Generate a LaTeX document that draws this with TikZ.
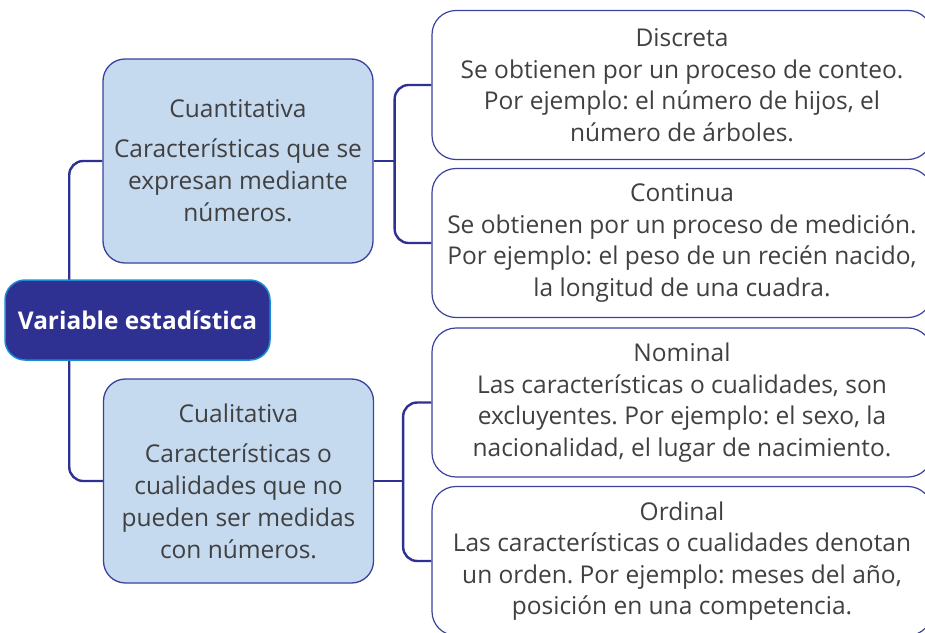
\documentclass[tikz,border=0pt]{standalone}
\usepackage{fontspec}
\setmainfont{Open Sans}
\frenchspacing
\usetikzlibrary{backgrounds}

\definecolor{navy}{RGB}{46,49,146}
\definecolor{rootedge}{RGB}{25,140,210}
\definecolor{paleblue}{RGB}{197,217,239}
\definecolor{boxedge}{RGB}{58,66,158}
\definecolor{bodytext}{RGB}{64,64,64}

\tikzset{
  rootbox/.style={draw=rootedge, line width=1.5pt, fill=navy, rounded corners=20pt,
    minimum width=265pt, minimum height=80pt, inner sep=0pt, text=white,
    font=\fontsize{24.4}{28}\selectfont\bfseries},
  typebox/.style={draw=boxedge, line width=1.3pt, fill=paleblue, rounded corners=22pt,
    minimum width=270pt, minimum height=204pt, inner sep=0pt, align=center,
    text=bodytext, font=\fontsize{24.5}{32}\selectfont},
  kindbox/.style={draw=boxedge, line width=1.2pt, fill=white, rounded corners=24pt,
    minimum width=500pt, minimum height=149pt, inner sep=0pt, align=center,
    text=bodytext, font=\fontsize{24.5}{31.5}\selectfont},
  conn/.style={draw=navy, line width=2.4pt, rounded corners=14pt}
}

\begin{document}
\begin{tikzpicture}[x=1pt, y=-1pt]
    \useasboundingbox (0,0) rectangle (925,632);
    \clip (0,0) rectangle (925,632);

    % main concept
    \node[rootbox] (root) at (137.5,320) {Variable estadística};

    % two kinds of variable
    \node[typebox] (cuanti) at (238,161) {Cuantitativa\\[8pt]Características que se\\expresan mediante\\números.};
    \node[typebox] (cuali) at (238.5,481) {Cualitativa\\[8pt]Características o\\cualidades que no\\pueden ser medidas\\con números.};

    % subtypes
    \node[kindbox] (disc) at (682,85) {Discreta\\Se obtienen por un proceso de conteo.\\Por ejemplo: el número de hijos, el\\número de árboles.};
    \node[kindbox] (cont) at (682,243) {Continua\\Se obtienen por un proceso de medición.\\Por ejemplo: el peso de un recién nacido,\\la longitud de una cuadra.};
    \node[kindbox] (nomi) at (682,402.5) {Nominal\\Las características o cualidades, son\\excluyentes. Por ejemplo: el sexo, la\\nacionalidad, el lugar de nacimiento.};
    \node[kindbox] (ordi) at (682,561) {Ordinal\\Las características o cualidades denotan\\un orden. Por ejemplo: meses del año,\\posición en una competencia.};

    % brackets
    \coordinate (lspine) at ([xshift=65pt]root.west);
    \coordinate (uspine) at ([xshift=21pt]cuanti.east);
    \coordinate (dspine) at ([xshift=29pt]cuali.east);
    \begin{scope}[on background layer]
        \draw[conn] (cuanti.west) -| (lspine) |- (cuali.west);
        \draw[conn] (cuanti.east) -- (uspine);
        \draw[conn] (disc.west) -| (uspine) |- (cont.west);
        \draw[conn] (cuali.east) -- (dspine);
        \draw[conn] (nomi.west) -| (dspine) |- (ordi.west);
    \end{scope}
\end{tikzpicture}
\end{document}
